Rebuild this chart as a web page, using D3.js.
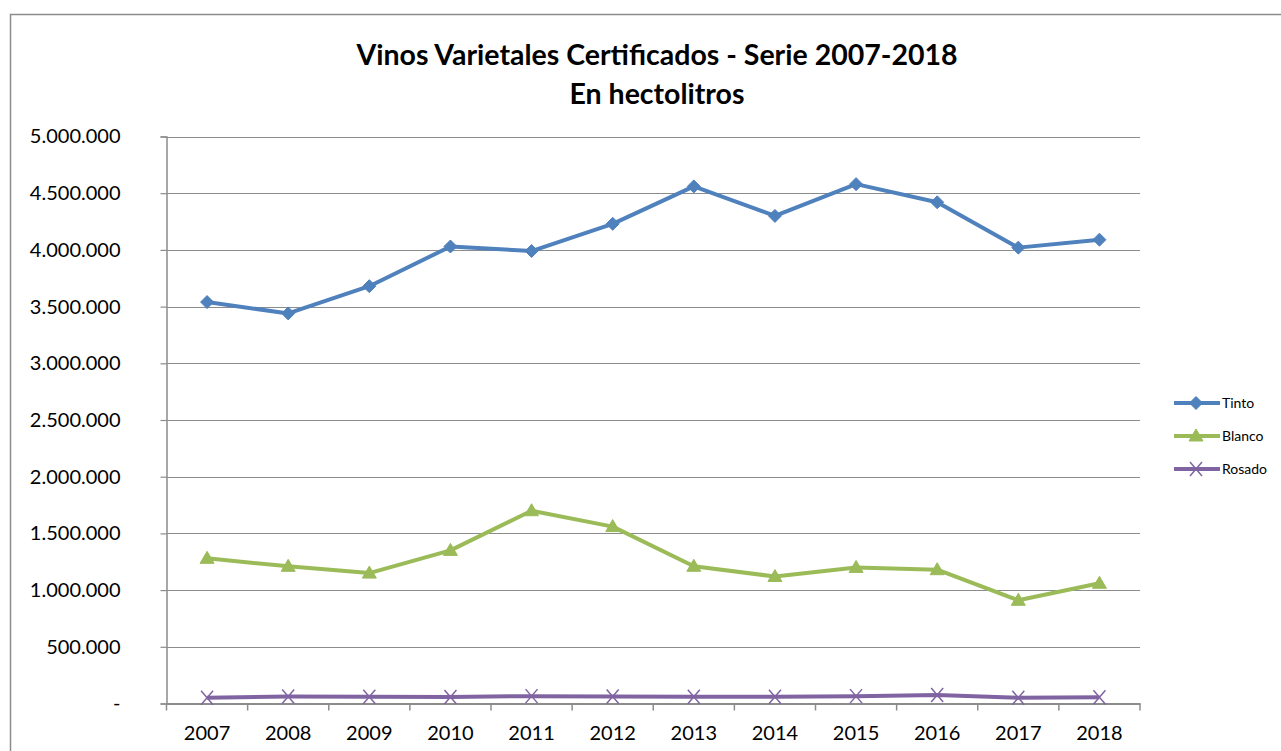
<!DOCTYPE html>
<html>
<head>
<meta charset="utf-8">
<script src="https://cdn.jsdelivr.net/npm/d3@7"></script>
<style>
  body { margin: 0; background: #fff; }
  svg { display: block; font-family: Lato, "Open Sans", sans-serif; }
</style>
</head>
<body>
<svg id="chart" width="1281" height="751"></svg>
<script>
// Years on the category axis
const years = ["2007", "2008", "2009", "2010", "2011", "2012", "2013", "2014", "2015", "2016", "2017", "2018"];

// Hectolitres per series
const tinto = [3540000, 3440000, 3680000, 4030000, 3990000, 4230000, 4560000, 4300000, 4580000, 4420000, 4020000, 4090000];
const blanco = [1280000, 1210000, 1150000, 1350000, 1700000, 1560000, 1210000, 1120000, 1200000, 1180000, 910000, 1060000];
const rosado = [50000, 62000, 60000, 58000, 65000, 62000, 60000, 60000, 65000, 75000, 50000, 55000];

const yTicks = [0, 500000, 1000000, 1500000, 2000000, 2500000, 3000000, 3500000, 4000000, 4500000, 5000000];

const series = [
    { name: "Tinto", values: tinto, color: "#4F81BD", marker: "diamond" },
    { name: "Blanco", values: blanco, color: "#9BBB59", marker: "triangle" },
    { name: "Rosado", values: rosado, color: "#8064A2", marker: "cross" }
];

const svg = d3.select("#chart");

// Outer chart border
svg.append("rect")
    .attr("x", 10.5).attr("y", 14.5)
    .attr("width", 1280).attr("height", 760)
    .attr("fill", "none").attr("stroke", "#8c8c8c").attr("stroke-width", 1.5);

const plot = { left: 166.5, right: 1140, top: 136.5, bottom: 703.5 };

const x = d3.scaleBand().domain(years).range([plot.left, plot.right]);
const y = d3.scaleLinear().domain([0, 5000000]).range([plot.bottom, plot.top]);

// Dots as thousands separator
const fmt = v => v === 0 ? "-" : d3.format(",")(v).replace(/,/g, ".");

// Gridlines
svg.append("g").selectAll("line")
    .data(yTicks.filter(d => d > 0))
    .join("line")
    .attr("x1", plot.left).attr("x2", plot.right)
    .attr("y1", d => Math.round(y(d)) + 0.5).attr("y2", d => Math.round(y(d)) + 0.5)
    .attr("stroke", "#8c8c8c").attr("stroke-width", 1.2);

// Y axis
const yAxis = svg.append("g")
    .attr("transform", `translate(${plot.left},0)`)
    .call(d3.axisLeft(y).tickValues(yTicks).tickFormat(fmt).tickSize(6).tickPadding(40));
yAxis.select(".domain").attr("stroke", "#8c8c8c").attr("stroke-width", 1.5);
yAxis.selectAll(".tick line").attr("stroke", "#8c8c8c").attr("stroke-width", 1.2);
yAxis.selectAll("text").attr("font-size", 20).attr("fill", "#000")
    .attr("font-family", "Lato, sans-serif");

// X axis
const xAxis = svg.append("g")
    .attr("transform", `translate(0,${plot.bottom})`)
    .call(d3.axisBottom(x).tickSize(0).tickPadding(22));
xAxis.select(".domain").attr("stroke", "#8c8c8c").attr("stroke-width", 2);
xAxis.selectAll("text").attr("font-size", 20).attr("fill", "#000")
    .attr("font-family", "Lato, sans-serif");
// tick marks between categories
xAxis.selectAll(".sep")
    .data(years.concat(["end"]))
    .join("line")
    .attr("class", "sep")
    .attr("x1", (d, i) => plot.left + i * x.bandwidth())
    .attr("x2", (d, i) => plot.left + i * x.bandwidth())
    .attr("y1", 0).attr("y2", 7)
    .attr("stroke", "#8c8c8c").attr("stroke-width", 1.5);

// Marker drawing
function drawMarker(g, type, color, cx, cy) {
    if (type === "diamond") {
        g.append("path")
            .attr("d", `M${cx},${cy - 6.5}L${cx + 6.5},${cy}L${cx},${cy + 6.5}L${cx - 6.5},${cy}Z`)
            .attr("fill", color).attr("stroke", color);
    } else if (type === "triangle") {
        g.append("path")
            .attr("d", `M${cx},${cy - 7}L${cx + 7},${cy + 5}L${cx - 7},${cy + 5}Z`)
            .attr("fill", color).attr("stroke", color);
    } else {
        g.append("path")
            .attr("d", `M${cx - 6},${cy - 7}L${cx + 6},${cy + 7}M${cx - 6},${cy + 7}L${cx + 6},${cy - 7}`)
            .attr("fill", "none").attr("stroke", color).attr("stroke-width", 1.5);
    }
}

const line = d3.line()
    .x((d, i) => x(years[i]) + x.bandwidth() / 2)
    .y(d => y(d));

series.forEach(s => {
    svg.append("path")
        .datum(s.values)
        .attr("d", line)
        .attr("fill", "none")
        .attr("stroke", s.color)
        .attr("stroke-width", 4)
        .attr("stroke-linejoin", "round");
    const g = svg.append("g");
    s.values.forEach((v, i) => {
        drawMarker(g, s.marker, s.color, x(years[i]) + x.bandwidth() / 2, y(v));
    });
});

// Title
const title = svg.append("text")
    .attr("text-anchor", "middle")
    .attr("font-weight", "bold")
    .attr("font-size", 28.5)
    .attr("font-family", "Lato, sans-serif");
title.append("tspan").attr("x", 657).attr("y", 65).text("Vinos Varietales Certificados - Serie 2007-2018");
title.append("tspan").attr("x", 657).attr("y", 104).text("En hectolitros");

// Legend
const legend = svg.append("g");
series.forEach((s, i) => {
    const ly = 403 + i * 33;
    legend.append("line")
        .attr("x1", 1174).attr("x2", 1220)
        .attr("y1", ly).attr("y2", ly)
        .attr("stroke", s.color).attr("stroke-width", 4);
    drawMarker(legend.append("g"), s.marker, s.color, 1196, ly);
    legend.append("text")
        .attr("x", 1222).attr("y", ly + 5)
        .attr("font-size", 14)
        .attr("font-family", "Lato, sans-serif")
        .text(s.name);
});
</script>
</body>
</html>
